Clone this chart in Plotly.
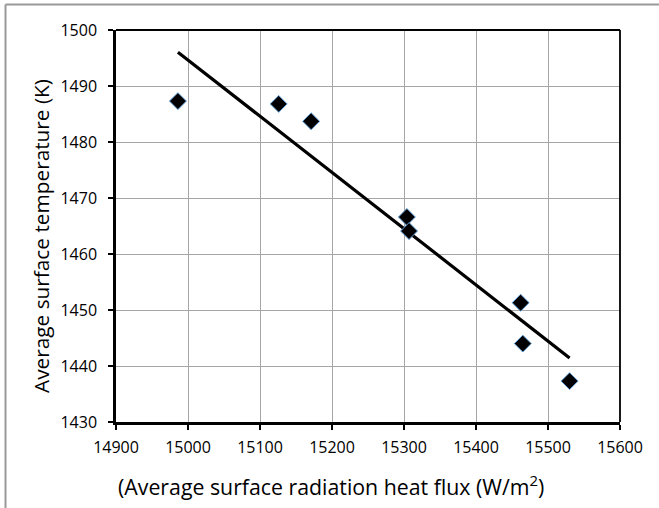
import numpy as np
import plotly.graph_objects as go

# Data
heat_flux = [14986, 15126, 15171, 15304, 15307, 15462, 15465, 15530]
surface_temp = [1487.3, 1486.8, 1483.7, 1466.6, 1464.1, 1451.3, 1444.0, 1437.3]

x_ticks = [14900, 15000, 15100, 15200, 15300, 15400, 15500, 15600]
y_ticks = [1430, 1440, 1450, 1460, 1470, 1480, 1490, 1500]

x_title = "(Average surface radiation heat flux (W/m<sup>2</sup>)"
y_title = "Average surface temperature (K)"

# Linear least-squares trendline over the data range
slope, intercept = np.polyfit(heat_flux, surface_temp, 1)
trend_x = [min(heat_flux), max(heat_flux)]
trend_y = [slope * v + intercept for v in trend_x]

FONT = "Open Sans"

fig = go.Figure()
fig.add_trace(go.Scatter(
    x=trend_x, y=trend_y, mode="lines",
    line=dict(color="black", width=3.2), showlegend=False, hoverinfo="skip"))
fig.add_trace(go.Scatter(
    x=heat_flux, y=surface_temp, mode="markers",
    marker=dict(symbol="diamond", size=13, color="black",
                line=dict(color="#5b9bd5", width=1)),
    showlegend=False))

L, R, T, B = 116, 39, 30, 86
W, H = 659, 508
pw, ph = W - L - R, H - T - B

def px_x(p):
    return (p - L) / pw

def px_y(p):
    return (H - B - p) / ph

axis_common = dict(
    showline=True, linecolor="black", linewidth=2.5, mirror=False,
    showgrid=True, gridcolor="#a6a6a6", gridwidth=1.3,
    ticks="outside", ticklen=5, tickwidth=2, tickcolor="black",
    tickfont=dict(family=FONT, size=16, color="black"),
    zeroline=False, fixedrange=True,
)

fig.update_layout(
    width=W, height=H,
    font=dict(family=FONT, size=16, color="black"),
    margin=dict(l=L, r=R, t=T, b=B, pad=0),
    paper_bgcolor="white", plot_bgcolor="white",
    xaxis=dict(range=[x_ticks[0], x_ticks[-1]], tickvals=x_ticks,
               ticktext=[str(v) for v in x_ticks], ticklabelstandoff=4,
               **axis_common),
    yaxis=dict(range=[y_ticks[0], y_ticks[-1]], tickvals=y_ticks,
               ticktext=[str(v) for v in y_ticks], ticklabelstandoff=8,
               **axis_common),
    shapes=[
        dict(type="line", xref="paper", yref="paper", x0=0, x1=1, y0=1, y1=1,
             line=dict(color="black", width=1.8)),
        dict(type="line", xref="paper", yref="paper", x0=1, x1=1, y0=0, y1=1,
             line=dict(color="black", width=1.8)),
        # outer chart border (left and top edges)
        dict(type="line", xref="paper", yref="paper",
             x0=px_x(5.5), x1=px_x(5.5), y0=px_y(4.5), y1=px_y(508),
             line=dict(color="#999999", width=2)),
        dict(type="line", xref="paper", yref="paper",
             x0=px_x(5.5), x1=px_x(659), y0=px_y(4.5), y1=px_y(4.5),
             line=dict(color="#999999", width=2)),
    ],
    annotations=[
        dict(text=x_title, xref="paper", yref="paper",
             x=px_x(331), y=px_y(485), showarrow=False,
             xanchor="center", yanchor="middle",
             font=dict(family=FONT, size=21.3, color="black")),
        dict(text=y_title, xref="paper", yref="paper",
             x=px_x(41), y=px_y(236), showarrow=False, textangle=-90,
             xanchor="center", yanchor="middle",
             font=dict(family=FONT, size=20.8, color="black")),
    ],
)

fig.write_html("out.html", config={"displayModeBar": False},
               post_script="document.body.style.margin='0';document.body.style.overflow='hidden';")
